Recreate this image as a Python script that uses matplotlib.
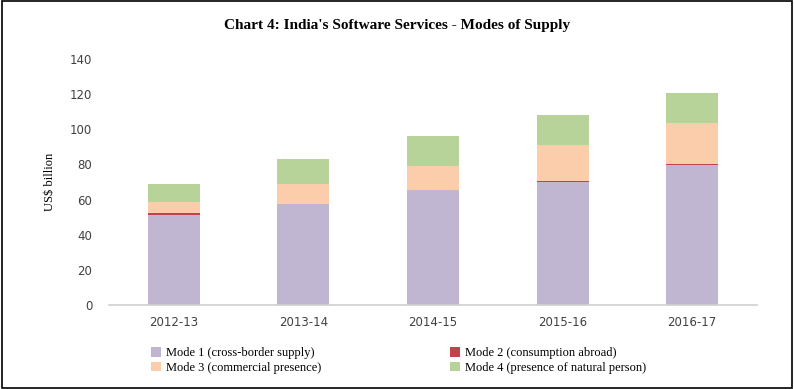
import numpy as np
import matplotlib.pyplot as plt
from matplotlib.patches import Patch, Rectangle

years = ["2012-13", "2013-14", "2014-15", "2015-16", "2016-17"]
mode1 = [51.2, 57.3, 65.3, 70.2, 79.6]
mode2 = [1.0, 0.3, 0.3, 0.4, 0.5]
mode3 = [6.6, 11.3, 13.4, 20.4, 23.7]
mode4 = [10.1, 14.1, 17.0, 17.3, 16.9]

labels = ["Mode 1 (cross-border supply)", "Mode 2 (consumption abroad)",
          "Mode 3 (commercial presence)", "Mode 4 (presence of natural person)"]
colors = ["#c0b6d2", "#c0444a", "#fbcdaa", "#b8d39a"]

fig = plt.figure(figsize=(7.94, 3.89), dpi=100)
ax = fig.add_axes([109 / 794, 1 - 305 / 389, 648 / 794, 246 / 389])

x = np.arange(len(years))
bottom = np.zeros(len(years))
for vals, col in zip([mode1, mode2, mode3, mode4], colors):
    ax.bar(x, vals, 0.4, bottom=bottom, color=col, linewidth=0)
    bottom += np.array(vals)

ax.set_xlim(-0.5, len(years) - 0.5)
ax.set_ylim(0, 140)
ax.set_yticks(range(0, 141, 20))
ax.set_xticks(x)
ax.set_xticklabels(years)
ax.tick_params(axis="both", length=0, labelsize=8.5, colors="#404040")
ax.tick_params(axis="y", pad=12)
ax.tick_params(axis="x", pad=8)
for s in ["top", "right", "left"]:
    ax.spines[s].set_visible(False)
ax.spines["bottom"].set_color("#d0d0d0")
ax.spines["bottom"].set_linewidth(1.2)
ax.set_ylabel("US$ billion", fontsize=9, family="Liberation Serif", labelpad=10)

fig.text(0.5, 1 - 26 / 389, "Chart 4: India's Software Services - Modes of Supply",
         ha="center", va="center", fontsize=11, fontweight="bold",
         family="Liberation Serif")

# legend fills column-first, so order as Mode 1, Mode 3 | Mode 2, Mode 4
order = [0, 2, 1, 3]
handles = [Patch(facecolor=colors[i], edgecolor="none") for i in order]
leg = fig.legend(handles, [labels[i] for i in order], ncol=2, loc="upper left",
                 bbox_to_anchor=(140 / 794, 1 - 336 / 389), frameon=False,
                 prop={"family": "Liberation Serif", "size": 9},
                 handlelength=0.8, handleheight=0.8, handletextpad=0.4,
                 columnspacing=10.3, labelspacing=0.2)

# outer frame
fig.patches.append(Rectangle((0.002, 0.003), 0.996, 0.994, transform=fig.transFigure,
                             fill=False, edgecolor="black", linewidth=1.2))

fig.savefig("out.png", dpi=100)
